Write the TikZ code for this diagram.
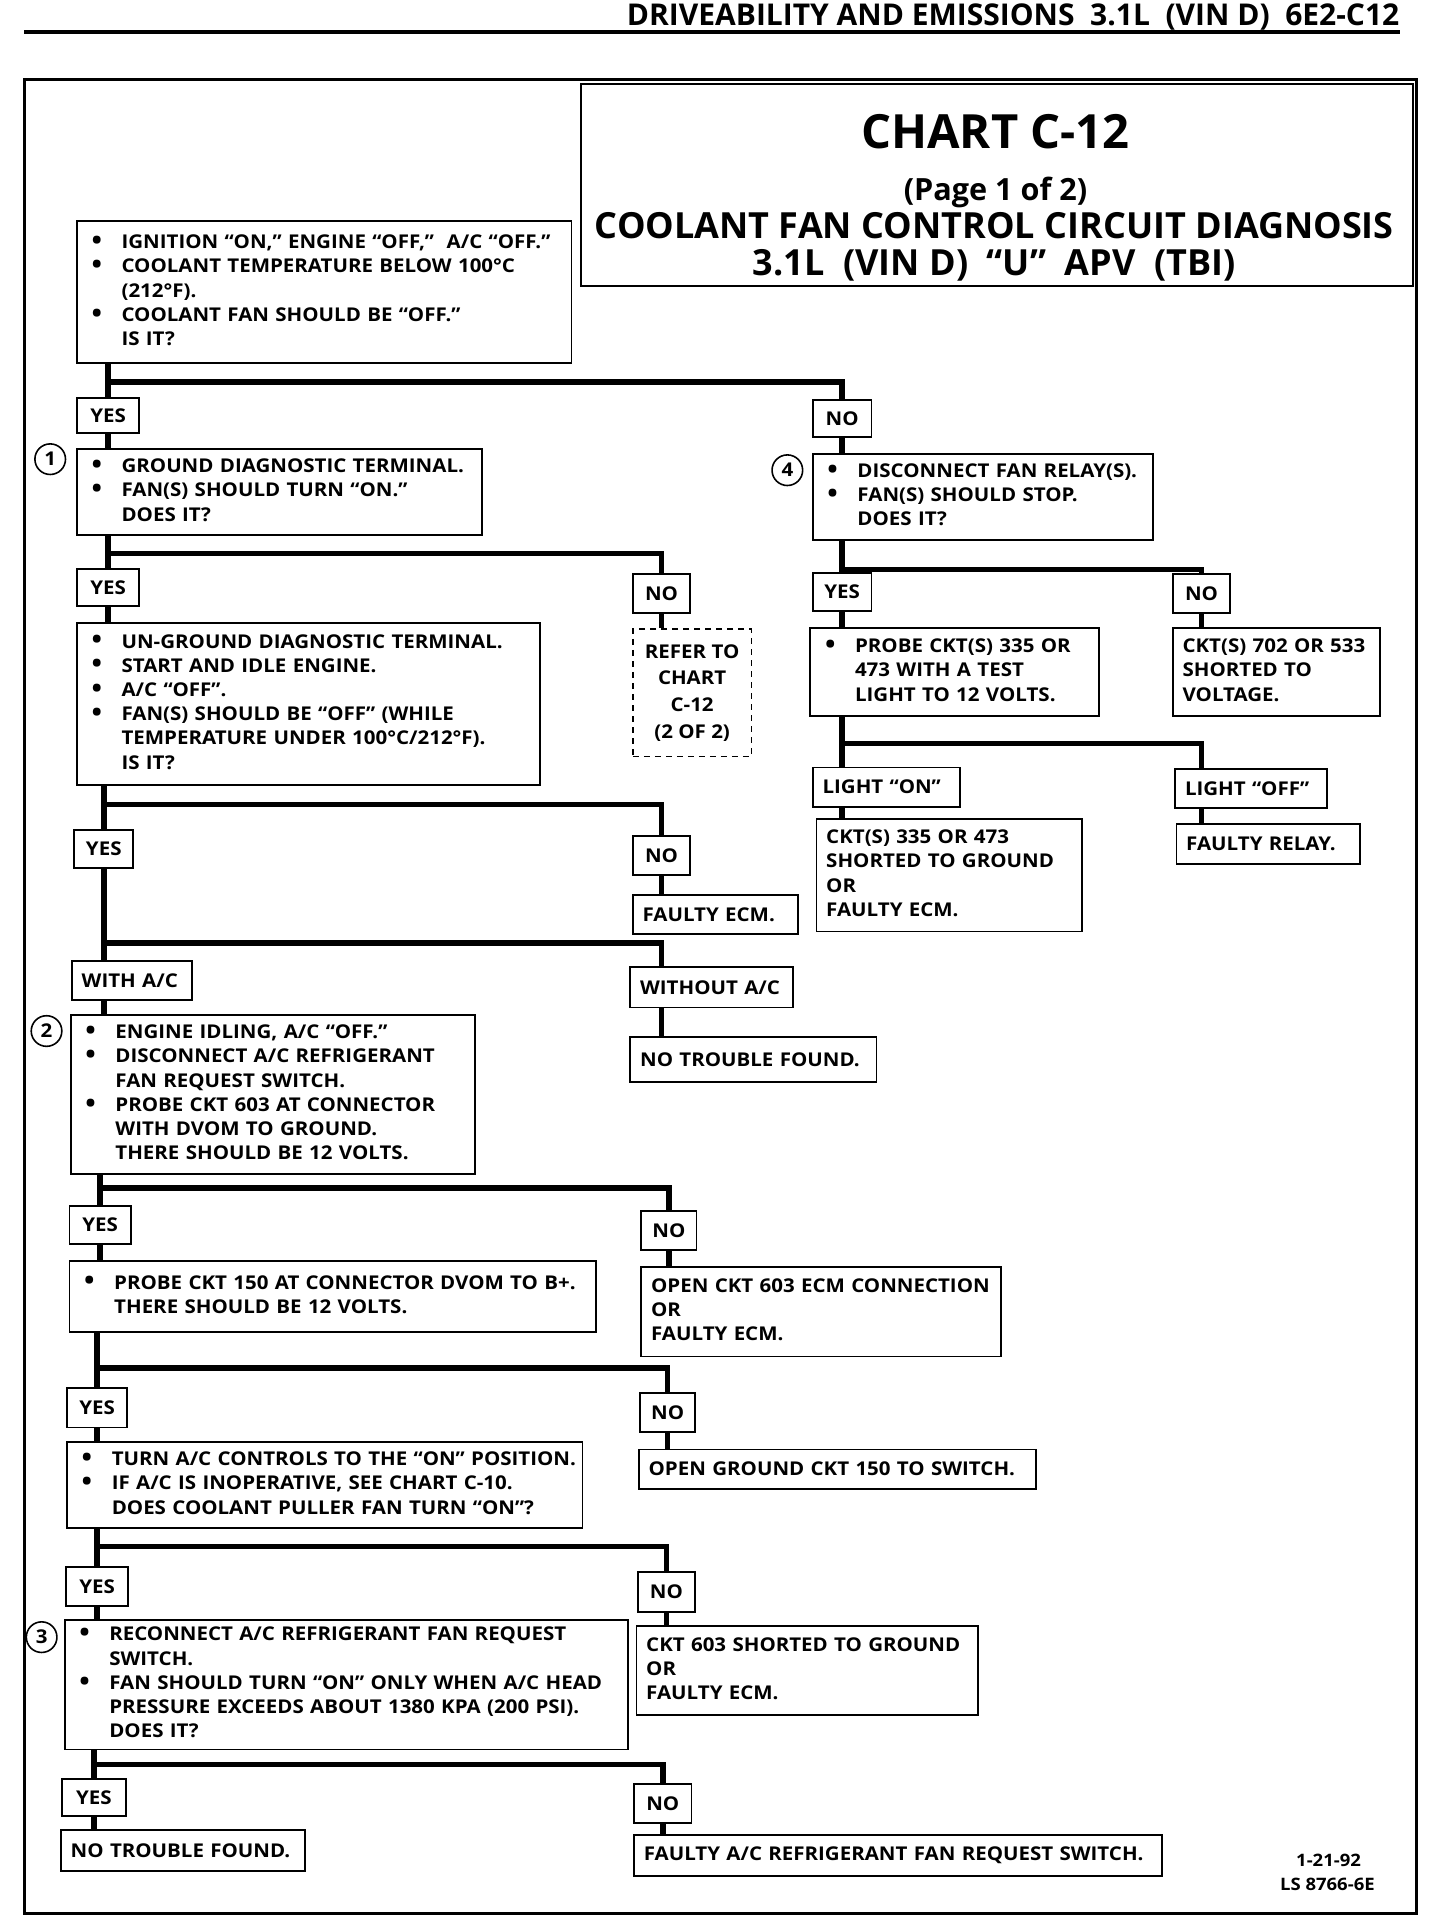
\documentclass[tikz,border=0pt]{standalone}
\usepackage{fontspec}
\setmainfont{Open Sans}[FakeStretch=1.08]
\newfontfamily\ttlfont{Open Sans}
\newcommand\bu{{\fontsize{21}{15}\selectfont\raisebox{-0.6pt}{\textbullet}}}
\newenvironment{bl}{\begin{tabular}{@{}l@{\hspace{16pt}}l@{}}}{\end{tabular}}
\newenvironment{pl}{\begin{tabular}{@{}l@{}}}{\end{tabular}}
\newcommand\bodyfont{\fontsize{15.5}{19.8}\selectfont\bfseries}
\tikzset{
  bx/.style={draw, line width=1.5pt, anchor=north west, inner xsep=12pt, inner ysep=0pt, align=left, font=\bodyfont},
  px/.style={draw, line width=1.5pt, anchor=north west, inner xsep=8pt, inner ysep=0pt, align=left, font=\bodyfont},
  lbl/.style={draw, line width=1.5pt, anchor=north west, inner sep=0pt, font=\bodyfont},
  conn/.style={line width=4.5pt},
  num/.style={draw, circle, line width=1.3pt, minimum size=25pt, inner sep=0pt, font=\bodyfont},
  txt/.style={inner sep=0pt, anchor=base, font=\ttlfont\bfseries}
}
\begin{document}
\begin{tikzpicture}[x=1pt,y=-1pt]
\useasboundingbox (0,0) rectangle (1176,1568);
% header
\node[txt, anchor=base east, font=\ttlfont\fontsize{24.5}{26}\selectfont\bfseries] (hdr) at (1143,21) {DRIVEABILITY AND EMISSIONS\ \ 3.1L\ \ (VIN D)\ \ 6E2-C12};
\coordinate (hl) at (20,26);
\coordinate (hr) at (1143,26);
\draw[line width=3pt] (hl) -- (hr);
% frame
\coordinate (fa) at (20,65);
\coordinate (fb) at (1157,1563);
\draw[line width=2.5pt] (fa) rectangle (fb);
% title
\node[lbl, minimum width=679pt, minimum height=165pt] (title) at (474,68) {};
\node[txt, font=\ttlfont\fontsize{38.5}{44}\selectfont\bfseries] (t1) at (813,121) {CHART C-12};
\node[txt, font=\ttlfont\fontsize{25}{28}\selectfont\bfseries] (t2) at (813,164) {(Page 1 of 2)};
\node[txt, font=\ttlfont\fontsize{29.4}{32}\selectfont\bfseries] (t3) at (812,195) {COOLANT FAN CONTROL CIRCUIT DIAGNOSIS};
\node[txt, font=\ttlfont\fontsize{29.4}{32}\selectfont\bfseries] (t4) at (812,225) {3.1L\ \ (VIN D)\ \ “U”\ \ APV\ \ (TBI)};

% boxes
\node[bx, text width=380pt, minimum height=116pt] (A) at (62,180) {\begin{bl}
\bu & IGNITION “ON,” ENGINE “OFF,”\ \ A/C “OFF.”\\
\bu & COOLANT TEMPERATURE BELOW 100°C\\
 & (212°F).\\
\bu & COOLANT FAN SHOULD BE “OFF.”\\
 & IS IT?
\end{bl}};
\node[lbl, minimum width=51pt, minimum height=29pt] (yes1) at (62,324) {YES};
\node[lbl, minimum width=48pt, minimum height=30pt] (no1) at (663,326) {NO};
\node[num] (c1) at (41,375) {1};
\node[bx, text width=307pt, minimum height=70pt] (B1) at (62,366) {\begin{bl}
\bu & GROUND DIAGNOSTIC TERMINAL.\\
\bu & FAN(S) SHOULD TURN “ON.”\\
 & DOES IT?
\end{bl}};
\node[num] (c4) at (643,384) {4};
\node[bx, text width=254pt, minimum height=70pt] (B4) at (663,370) {\begin{bl}
\bu & DISCONNECT FAN RELAY(S).\\
\bu & FAN(S) SHOULD STOP.\\
 & DOES IT?
\end{bl}};
\node[lbl, minimum width=51pt, minimum height=30pt] (yes2) at (62,464) {YES};
\node[lbl, minimum width=47pt, minimum height=32pt] (no2) at (516,468) {NO};
\node[lbl, dashed, dash pattern=on 5pt off 4pt, align=center, minimum width=97pt, minimum height=104pt] (refer) at (516,513) {REFER TO\\[2pt]CHART\\[2pt]C-12\\[2pt](2 OF 2)};
\node[bx, text width=354pt, minimum height=132pt] (B2) at (62,508) {\begin{bl}
\bu & UN-GROUND DIAGNOSTIC TERMINAL.\\
\bu & START AND IDLE ENGINE.\\
\bu & A/C “OFF”.\\
\bu & FAN(S) SHOULD BE “OFF” (WHILE\\
 & TEMPERATURE UNDER 100°C/212°F).\\
 & IS IT?
\end{bl}};
\node[lbl, minimum width=48pt, minimum height=31pt] (yes4) at (663,467) {YES};
\node[lbl, minimum width=47pt, minimum height=32pt] (no4) at (957,468) {NO};
\node[bx, text width=212pt, minimum height=72pt] (probe) at (661,512) {\begin{bl}
\bu & PROBE CKT(S) 335 OR\\
 & 473 WITH A TEST\\
 & LIGHT TO 12 VOLTS.
\end{bl}};
\node[px, text width=153pt, minimum height=72pt] (ckt702) at (957,512) {\begin{pl}
CKT(S) 702 OR 533\\
SHORTED TO\\
VOLTAGE.
\end{pl}};
\node[px, text width=104pt, minimum height=32pt] (lon) at (663,626) {LIGHT “ON”};
\node[px, text width=108pt, minimum height=32pt] (loff) at (959,627) {LIGHT “OFF”};
\node[px, text width=201pt, minimum height=92pt] (ckt335) at (666,668) {\begin{pl}
CKT(S) 335 OR 473\\
SHORTED TO GROUND\\
OR\\
FAULTY ECM.
\end{pl}};
\node[px, text width=134pt, minimum height=33pt] (frelay) at (960,672) {FAULTY RELAY.};
\node[lbl, minimum width=48pt, minimum height=31pt] (yes3) at (60,677) {YES};
\node[lbl, minimum width=47pt, minimum height=32pt] (no3) at (516,682) {NO};
\node[px, text width=119pt, minimum height=32pt] (fecm) at (516,730) {FAULTY ECM.};
\node[px, text width=82pt, minimum height=32pt] (withac) at (58,784) {WITH A/C};
\node[px, text width=117pt, minimum height=33pt] (withoutac) at (514,789) {WITHOUT A/C};
\node[px, text width=185pt, minimum height=37pt] (ntf1) at (514,846) {NO TROUBLE FOUND.};
\node[num] (c2) at (38,842) {2};
\node[bx, text width=306pt, minimum height=130pt] (B3) at (57,828) {\begin{bl}
\bu & ENGINE IDLING, A/C “OFF.”\\
\bu & DISCONNECT A/C REFRIGERANT\\
 & FAN REQUEST SWITCH.\\
\bu & PROBE CKT 603 AT CONNECTOR\\
 & WITH DVOM TO GROUND.\\
 & THERE SHOULD BE 12 VOLTS.
\end{bl}};
\node[lbl, minimum width=50pt, minimum height=31pt] (yes5) at (56,984) {YES};
\node[lbl, minimum width=45pt, minimum height=32pt] (no5) at (523,988) {NO};
\node[bx, text width=406pt, minimum height=58pt] (B150) at (56,1029) {\begin{bl}
\bu & PROBE CKT 150 AT CONNECTOR DVOM TO B+.\\
 & THERE SHOULD BE 12 VOLTS.
\end{bl}};
\node[px, text width=278pt, minimum height=73pt] (open603) at (523,1034) {\begin{pl}
OPEN CKT 603 ECM CONNECTION\\
OR\\
FAULTY ECM.
\end{pl}};
\node[lbl, minimum width=49pt, minimum height=32pt] (yes6) at (54,1133) {YES};
\node[lbl, minimum width=45pt, minimum height=32pt] (no6) at (522,1137) {NO};
\node[bx, text width=397pt, minimum height=70pt] (turn) at (54,1177) {\begin{bl}
\bu & TURN A/C CONTROLS TO THE “ON” POSITION.\\
\bu & IF A/C IS INOPERATIVE, SEE CHART C-10.\\
 & DOES COOLANT PULLER FAN TURN “ON”?
\end{bl}};
\node[px, text width=308pt, minimum height=32pt] (openground) at (521,1183) {OPEN GROUND CKT 150 TO SWITCH.};
\node[lbl, minimum width=51pt, minimum height=32pt] (yes7) at (53,1279) {YES};
\node[lbl, minimum width=47pt, minimum height=33pt] (no7) at (520,1283) {NO};
\node[num] (c3) at (34,1337) {3};
\node[bx, text width=436pt, minimum height=106pt] (reconnect) at (52,1322) {\begin{bl}
\bu & RECONNECT A/C REFRIGERANT FAN REQUEST\\
 & SWITCH.\\
\bu & FAN SHOULD TURN “ON” ONLY WHEN A/C HEAD\\
 & PRESSURE EXCEEDS ABOUT 1380 KPA (200 PSI).\\
 & DOES IT?
\end{bl}};
\node[px, text width=263pt, minimum height=73pt] (ckt603) at (519,1327) {\begin{pl}
CKT 603 SHORTED TO GROUND\\
OR\\
FAULTY ECM.
\end{pl}};
\node[lbl, minimum width=52pt, minimum height=30pt] (yes8) at (50,1452) {YES};
\node[lbl, minimum width=47pt, minimum height=32pt] (no8) at (517,1456) {NO};
\node[px, text width=183pt, minimum height=33pt] (ntf2) at (49,1494) {NO TROUBLE FOUND.};
\node[px, text width=415pt, minimum height=33pt] (faultysw) at (517,1498) {FAULTY A/C REFRIGERANT FAN REQUEST SWITCH.};
% footer
\node[txt, font=\fontsize{14}{16}\selectfont\bfseries] (f1) at (1085,1524) {1-21-92};
\node[txt, font=\fontsize{14}{16}\selectfont\bfseries] (f2) at (1084,1544) {LS 8766-6E};

% branch rows
\coordinate (r1) at (0,312);
\coordinate (r2) at (0,452);
\coordinate (r3) at (0,465);
\coordinate (r4) at (0,607);
\coordinate (r5) at (0,657);
\coordinate (r6) at (0,770);
\coordinate (r7) at (0,970);
\coordinate (r8) at (0,1117);
\coordinate (r9) at (0,1263);
\coordinate (r10) at (0,1441);

% connectors
\draw[conn] (A.south -| yes1.north) -- (yes1.north);
\draw[conn] (r1 -| yes1) -- (r1 -| no1) -- (no1.north);
\draw[conn] (yes1.south) -- (yes1.south |- B1.north);
\draw[conn] (no1.south) -- (no1.south |- B4.north);

\draw[conn] (B1.south -| yes2.north) -- (yes2.north);
\draw[conn] (r2 -| yes2) -- (r2 -| no2) -- (no2.north);
\draw[conn] (yes2.south) -- (yes2.south |- B2.north);
\draw[conn] (no2.south) -- (no2.south |- refer.north);

\draw[conn] (B4.south -| yes4.north) -- (yes4.north);
\draw[conn] (r3 -| yes4) -- (r3 -| no4) -- (no4.north);
\draw[conn] (yes4.south) -- (yes4.south |- probe.north);
\draw[conn] (no4.south) -- (no4.south |- ckt702.north);

\draw[conn] (probe.south -| yes4) -- (yes4 |- lon.north);
\draw[conn] (r4 -| yes4) -- (r4 -| no4) -- (no4 |- loff.north);
\draw[conn] (yes4 |- lon.south) -- (yes4 |- ckt335.north);
\draw[conn] (no4 |- loff.south) -- (no4 |- frelay.north);

\draw[conn] (B2.south -| yes3.north) -- (yes3.north);
\draw[conn] (r5 -| yes3) -- (r5 -| no3) -- (no3.north);
\draw[conn] (no3.south) -- (no3.south |- fecm.north);

\draw[conn] (yes3.south) -- (yes3.south |- withac.north);
\draw[conn] (r6 -| yes3) -- (r6 -| no3) -- (no3 |- withoutac.north);
\draw[conn] (no3 |- withoutac.south) -- (no3 |- ntf1.north);
\draw[conn] (yes3 |- withac.south) -- (yes3 |- B3.north);

\draw[conn] (B3.south -| yes5.north) -- (yes5.north);
\draw[conn] (r7 -| yes5) -- (r7 -| no5) -- (no5.north);
\draw[conn] (yes5.south) -- (yes5.south |- B150.north);
\draw[conn] (no5.south) -- (no5.south |- open603.north);

\draw[conn] (B150.south -| yes6.north) -- (yes6.north);
\draw[conn] (r8 -| yes6) -- (r8 -| no6) -- (no6.north);
\draw[conn] (yes6.south) -- (yes6.south |- turn.north);
\draw[conn] (no6.south) -- (no6.south |- openground.north);

\draw[conn] (turn.south -| yes7.north) -- (yes7.north);
\draw[conn] (r9 -| yes7) -- (r9 -| no7) -- (no7.north);
\draw[conn] (yes7.south) -- (yes7.south |- reconnect.north);
\draw[conn] (no7.south) -- (no7.south |- ckt603.north);

\draw[conn] (reconnect.south -| yes8.north) -- (yes8.north);
\draw[conn] (r10 -| yes8) -- (r10 -| no8) -- (no8.north);
\draw[conn] (yes8.south) -- (yes8.south |- ntf2.north);
\draw[conn] (no8.south) -- (no8.south |- faultysw.north);
\end{tikzpicture}
\end{document}
